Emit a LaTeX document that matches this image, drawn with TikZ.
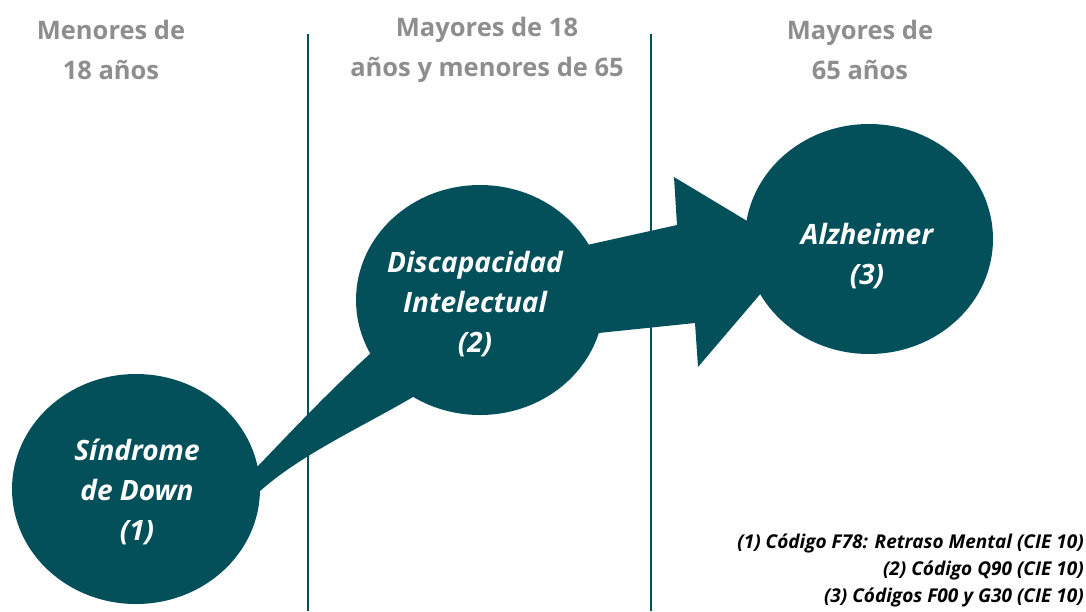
\documentclass[tikz,border=0pt]{standalone}
\usepackage{fontspec}
\setmainfont{Open Sans}
\usetikzlibrary{shapes.geometric}
\definecolor{petrol}{HTML}{03505A}
\definecolor{ashgray}{HTML}{8E8E8E}
\tikzset{
  blob/.style={ellipse, fill=petrol, inner sep=0pt, minimum width=248pt, minimum height=230pt},
  blobtext/.style={text=white, align=center, font=\fontsize{28}{40}\selectfont\bfseries\itshape},
  agehead/.style={text=ashgray, align=center, font=\fontsize{25.5}{40}\selectfont\bfseries},
  sepline/.style={petrol, line width=1.6pt},
  notes/.style={anchor=east, align=right, inner sep=0pt, font=\fontsize{19}{27}\selectfont\bfseries\itshape}
}

\begin{document}
\begin{tikzpicture}[x=1pt,y=-1pt]
    \useasboundingbox (0,0) rectangle (1086,611);

    % age groups
    \node[agehead] (young) at (111,50) {Menores de\\18 años};
    \node[agehead] (adult) at (487,50) {Mayores de 18\\años y menores de 65};
    \node[agehead] (old) at (860,50) {Mayores de\\65 años};

    \draw[sepline] (308,34) -- (308,611);
    \draw[sepline] (651,34) -- (651,611);

    % stages
    \node[blob] (down) at (136,489) {};
    \node[blob] (discap) at (480,300) {};
    \node[blob] (alzh) at (869,239) {};

    % arrows
    \fill[petrol] (down.center) -- (258,466)
      .. controls (285,438) and (325,395) .. (372,352) -- (discap.center)
      -- (413,397) .. controls (360,428) and (300,455) .. (259,492) -- cycle;
    \fill[petrol] ([shift={(80,-49)}]discap.center) -- (677,225) -- (674,177)
      -- (797,251) -- (698,367) -- (695,323)
      -- ([shift={(80,37)}]discap.center) -- cycle;

    \node[blobtext] at (137,492) {Síndrome\\de Down\\(1)};
    \node[blobtext] at (475,304) {Discapacidad\\Intelectual\\(2)};
    \node[blobtext] at (867,256) {Alzheimer\\(3)};

    \node[notes] (codes) at (1084,570) {(1) Código F78: Retraso Mental (CIE 10)\\
      (2) Código Q90 (CIE 10)\\(3) Códigos F00 y G30 (CIE 10)};

\end{tikzpicture}
\end{document}
